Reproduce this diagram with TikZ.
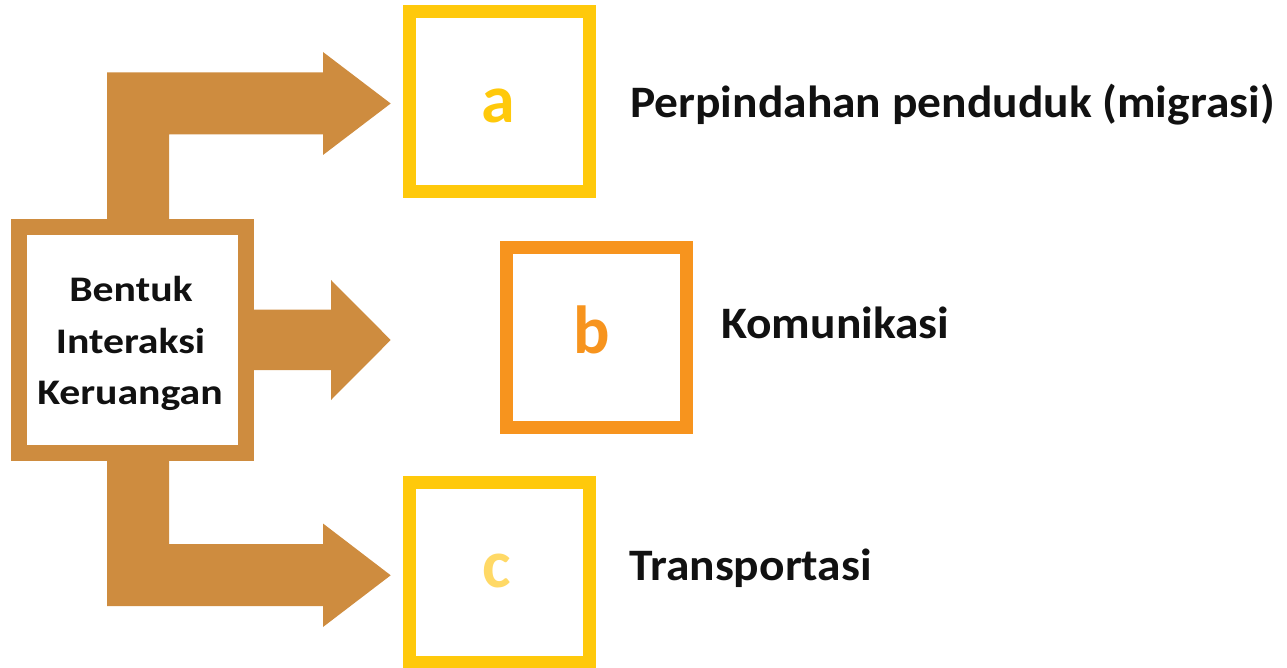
\documentclass[tikz,border=0pt]{standalone}
\usepackage{fontspec}
\setmainfont{Carlito}
\newfontfamily\boxfont[FakeStretch=1.16]{Carlito}
\newfontfamily\labfont[FakeStretch=1.055]{Carlito}
\definecolor{brownA}{HTML}{CE8C3F}
\definecolor{yellowA}{HTML}{FFC90B}
\definecolor{orangeA}{HTML}{F7941E}
\definecolor{yellowL}{HTML}{FFD966}
\definecolor{textK}{HTML}{111111}
\begin{document}
\begin{tikzpicture}[x=1pt,y=-1pt,
  mainbox/.style={draw=brownA,line width=16pt,fill=white,minimum width=226.7pt,minimum height=226pt,inner sep=0pt},
  maintext/.style={font=\boxfont\fontsize{36}{51}\selectfont\bfseries,text=textK,align=center,anchor=base,inner sep=0pt},
  letterbox/.style={draw=#1,line width=13pt,fill=white,minimum width=180pt,minimum height=179.8pt,inner sep=0pt},
  letter/.style={font=\fontsize{68}{80}\selectfont\bfseries,text=#1,anchor=base},
  label/.style={font=\labfont\fontsize{45}{54}\selectfont\bfseries,text=textK,anchor=base west,inner sep=0pt},
  blockarrow/.style={fill=brownA,draw=none}]
\useasboundingbox (0,0) rectangle (1287,668);
% block arrows (drawn first)
\fill[blockarrow] (107,226) -- (107,72.5) -- (323,72.5) -- (323,52) -- (390.7,103.5) -- (323,155) -- (323,134.5) -- (169,134.5) -- (169,226) -- cycle;
\fill[blockarrow] (245,309.5) -- (331,309.5) -- (331,280) -- (390.7,340) -- (331,400) -- (331,370) -- (245,370) -- cycle;
\fill[blockarrow] (107,454) -- (107,606) -- (323,606) -- (323,627) -- (390.7,575.3) -- (323,523.5) -- (323,544) -- (169,544) -- (169,454) -- cycle;
% main box
\node[mainbox] (main) at (132.3,340) {};
\node[maintext] (t1) at (131,301.7) {Bentuk};
\node[maintext] (t2) at (130.5,353) {Interaksi};
\node[maintext] (t3) at (130,404) {Keruangan};
% letter boxes
\node[letterbox=yellowA] (a) at (499.5,101.4) {};
\node[letterbox=orangeA] (b) at (596.5,337.4) {};
\node[letterbox=yellowA] (c) at (499.5,572.3) {};
\node[letter=yellowA] (la) at (498,123) {a};
\node[letter=orangeA] (lb) at (592,353) {b};
\node[letter=yellowL] (lc) at (497,587.7) {c};
% labels
\node[label] (ta) at (630,118) {Perpindahan penduduk (migrasi)};
\node[label] (tb) at (721,338) {Komunikasi};
\node[label] (tc) at (629,580) {Transportasi};
\end{tikzpicture}
\end{document}
